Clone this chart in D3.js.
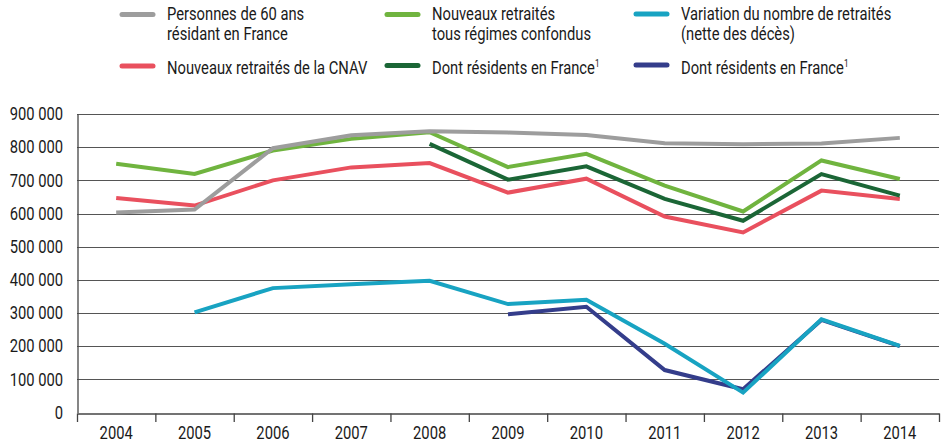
<!DOCTYPE html>
<html><head><meta charset="utf-8">
<script src="https://cdn.jsdelivr.net/npm/d3@7/dist/d3.min.js"></script>
<style>
body{margin:0;background:#fff;}
svg text{font-family:Roboto,"Noto Sans",sans-serif;fill:#1a1a1a;}
</style></head>
<body><svg id="c" width="941" height="444"></svg>
<script>
const years = ["2004","2005","2006","2007","2008","2009","2010","2011","2012","2013","2014"];
const yTicks = [0,100000,200000,300000,400000,500000,600000,700000,800000,900000];
const personnes60 = [603000,612000,797000,836000,848000,844000,837000,812000,809000,811000,828000];
const nouveauxTous = [750000,719000,790000,825000,845000,740000,780000,684000,606000,760000,704000];
const nouveauxTousFrance = [null,null,null,null,810000,702000,742000,644000,578000,719000,654000];
const nouveauxCnav = [647000,624000,700000,739000,752000,663000,705000,591000,543000,669000,644000];
const variation = [null,302000,375000,387000,397000,327000,340000,207000,60000,281000,201000];
const variationFrance = [null,null,null,null,null,296000,319000,128000,70000,279000,200000];

const seriesNames = ["Personnes de 60 ans|résidant en France","Nouveaux retraités|tous régimes confondus","Variation du nombre de retraités|(nette des décès)","Nouveaux retraités de la CNAV","Dont résidents en France","Dont résidents en France"];
const colors = {gray:"#9d9d9d",lgreen:"#70b43f",dgreen:"#1b6636",red:"#e9505e",cyan:"#18a3c2",navy:"#343d8b"};

const SX = 0.82;
function squeeze(sel){
  sel.each(function(){
    const t = d3.select(this);
    const X = +t.attr("x") || 0;
    t.attr("transform", `translate(${X},0) scale(${SX},1) translate(${-X},0)`);
  });
}

const svg = d3.select("#c");
const x = d3.scaleBand().domain(years).range([77,939]);
const y = d3.scaleLinear().domain([0,900000]).range([412.5,114]);

// gridlines
svg.append("g").selectAll("line").data(yTicks.filter(d=>d>0)).join("line")
  .attr("x1",77).attr("x2",939).attr("y1",d=>Math.round(y(d))+0.5).attr("y2",d=>Math.round(y(d))+0.5)
  .attr("stroke","#555").attr("stroke-width",1);

// y axis
const fmt = d => d===0 ? "0" : d3.format(",")(d).replace(/,/g," ");
const ya = svg.append("g").attr("transform","translate(77.5,0)")
  .call(d3.axisLeft(y).tickValues(yTicks).tickSize(0).tickPadding(14.5).tickFormat(fmt));
ya.select(".domain").attr("stroke","#444").attr("stroke-width",1.3);
ya.selectAll("text").attr("font-size",18).style("font-family",null).attr("fill","#1a1a1a");
squeeze(ya.selectAll("text"));

// x axis
const xa = svg.append("g").attr("transform","translate(0,"+(Math.round(y(0))+0.5)+")")
  .call(d3.axisBottom(x).tickSize(0).tickPadding(12.5));
xa.select(".domain").attr("stroke","#444").attr("stroke-width",1.3);
xa.selectAll("text").attr("font-size",18).style("font-family",null).attr("fill","#1a1a1a");
squeeze(xa.selectAll("text"));
const bounds = years.map(d=>x(d)).concat([x.range()[1]]);
xa.selectAll("line.bt").data(bounds).join("line").attr("class","bt")
  .attr("x1",d=>d+0.5).attr("x2",d=>d+0.5).attr("y1",0).attr("y2",8.5)
  .attr("stroke","#444").attr("stroke-width",1.3);

// lines
const line = d3.line().defined(d=>d.v!==null).x(d=>x(d.k)+x.bandwidth()/2).y(d=>y(d.v));
function draw(vals,color){
  svg.append("path").datum(vals.map((v,i)=>({k:years[i],v})))
    .attr("d",line).attr("fill","none").attr("stroke",color).attr("stroke-width",4)
    .attr("stroke-linejoin","miter").attr("stroke-linecap","butt");
}
draw(nouveauxCnav,colors.red);
draw(nouveauxTous,colors.lgreen);
draw(nouveauxTousFrance,colors.dgreen);
draw(personnes60,colors.gray);
draw(variationFrance,colors.navy);
draw(variation,colors.cyan);

// legend
const legend = [
  {name:seriesNames[0],c:colors.gray,x:122,y:14.5,ty:20.5},
  {name:seriesNames[1],c:colors.lgreen,x:387,y:14.5,ty:20.5},
  {name:seriesNames[2],c:colors.cyan,x:636,y:14,ty:20.5},
  {name:seriesNames[3],c:colors.red,x:122,y:66,ty:74},
  {name:seriesNames[4],c:colors.dgreen,x:387,y:65.5,ty:74,sup:true},
  {name:seriesNames[5],c:colors.navy,x:636,y:65,ty:74,sup:true}
];
const lg = svg.append("g").selectAll("g").data(legend).join("g");
lg.append("line").attr("x1",d=>d.x).attr("x2",d=>d.x+31).attr("y1",d=>d.y).attr("y2",d=>d.y)
  .attr("stroke",d=>d.c).attr("stroke-width",5).attr("stroke-linecap","round");
lg.each(function(d){
  const g = d3.select(this);
  const lines = d.name.split("|");
  lines.forEach((t,i)=>{
    const tx = g.append("text").attr("x",d.x+45).attr("y",d.ty+i*19.5).attr("font-size",18).text(t);
    if(d.sup) tx.append("tspan").attr("font-size",10).attr("dy",-7).text("1");
    squeeze(tx);
  });
});
</script></body></html>
